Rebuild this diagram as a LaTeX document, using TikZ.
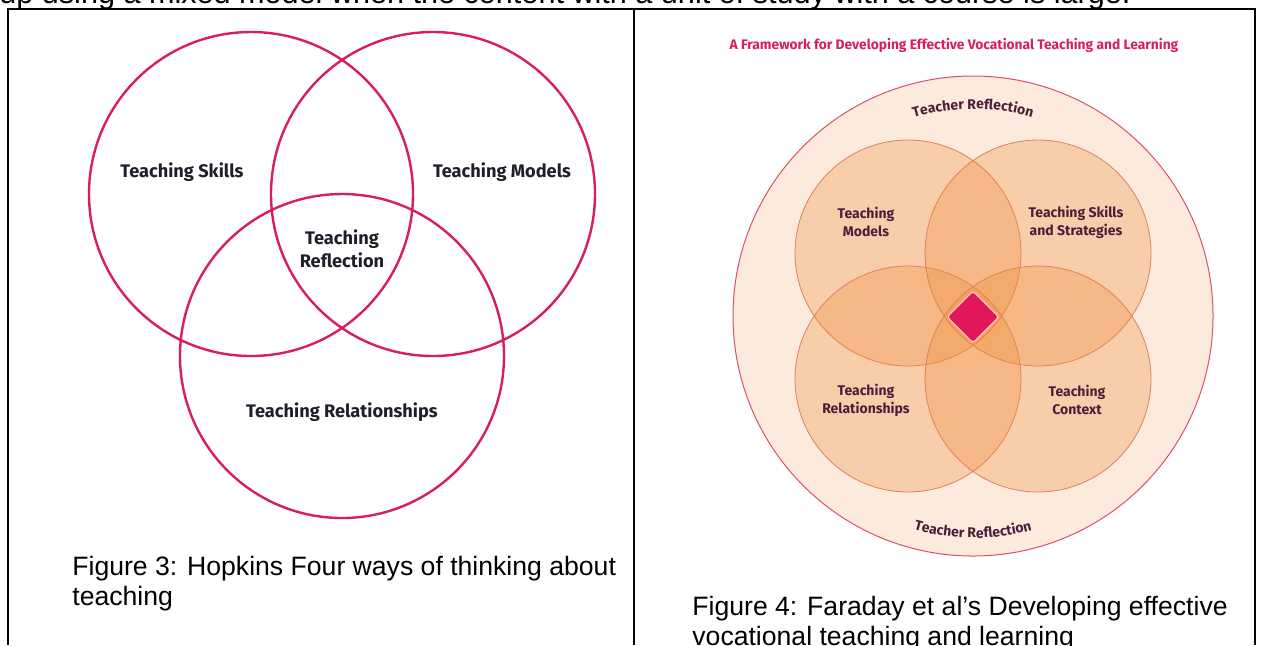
\documentclass[tikz,border=0pt]{standalone}
\usepackage{fontspec}
\setmainfont{Liberation Sans}
\newfontfamily\diagfont{Fira Sans}
\usepackage{tikz}
\usetikzlibrary{shapes.geometric, decorations.text}
\definecolor{vennred}{HTML}{D81E5B}
\definecolor{rimred}{HTML}{D9506E}
\definecolor{peach}{HTML}{FCEBDD}
\definecolor{petal}{HTML}{F08A35}
\definecolor{petalrim}{HTML}{E0805E}
\definecolor{corered}{HTML}{E0185A}
\definecolor{plumtext}{HTML}{4A1E3A}
\definecolor{inktext}{HTML}{1F1E2A}

\begin{document}
\begin{tikzpicture}[x=0.5pt, y=-0.5pt,
  ring/.style={circle, draw=vennred, line width=1.2pt, minimum size=162pt, inner sep=0pt},
  petalring/.style={circle, draw=petalrim, line width=0.4pt, fill=petal, fill opacity=0.3,
              minimum size=113pt, inner sep=0pt},
  lbl/.style={font=\diagfont\bfseries\fontsize{9.1}{11.5}\selectfont, text=inktext, align=center},
  plbl/.style={font=\diagfont\bfseries\fontsize{7}{9}\selectfont, text=plumtext, align=center},
  capt/.style={font=\fontsize{13.3}{15}\selectfont, anchor=base west, align=left, inner sep=0pt},
  frame/.style={line width=1pt, black}]
\useasboundingbox (0,0) rectangle (1262,645);
\node[capt, font=\fontsize{15.3}{17}\selectfont] (lead) at (-1,3) {up using a mixed model when the content with a unit of study with a course is large.};
\draw[frame] (8,645) -- (8,9) -- (1255,9) -- (1255,645);
\draw[frame] (634,9) -- (634,645);
% figure 3
\node[ring] (skills) at (251,194) {};
\node[ring] (models) at (433,194) {};
\node[ring] (relations) at (342,356) {};
\node[lbl] (tskills) at (182,172) {Teaching Skills};
\node[lbl] (tmodels) at (502,172) {Teaching Models};
\node[lbl] (treflect) at (342,249) {Teaching\\Reflection};
\node[lbl] (trelations) at (342,412) {Teaching Relationships};
\node[capt] (cap3) at (72,605) {Figure 3: Hopkins Four ways of thinking about\\teaching};
% figure 4
\node[font=\diagfont\bfseries\fontsize{6.9}{8}\selectfont, text=vennred] (title) at (954,45)
  {A Framework for Developing Effective Vocational Teaching and Learning};
\node[circle, draw=rimred, line width=0.5pt, fill=peach, minimum size=240pt, inner sep=0pt] (outer) at (973,316) {};
\node[petalring] (pmodels) at (908,253) {};
\node[petalring] (pskills) at (1038,253) {};
\node[petalring] (prelations) at (908,379) {};
\node[petalring] (pcontext) at (1038,379) {};
\node[diamond, fill=corered, draw=pink!60!white, line width=0.5pt, rounded corners=1.5pt,
      minimum size=26pt, inner sep=0pt] (core) at (973,317) {};
\node[plbl] (lmodels) at (866,222) {Teaching\\Models};
\node[plbl] (lskills) at (1076,222) {Teaching Skills\\and Strategies};
\node[plbl] (lrelations) at (866,400) {Teaching\\Relationships};
\node[plbl] (lcontext) at (1077,400) {Teaching\\Context};
\path[decorate, decoration={text along path, text align=center,
  text={|\diagfont\bfseries\fontsize{7}{8}\selectfont\color{plumtext}|Teacher Reflection}}]
  (outer.center) ++(245:207) arc[start angle=245, end angle=295, radius=207];
\path[decorate, decoration={text along path, text align=center,
  text={|\diagfont\bfseries\fontsize{7}{8}\selectfont\color{plumtext}|Teacher Reflection}}]
  (outer.center) ++(115:222) arc[start angle=115, end angle=65, radius=222];
\node[capt] (cap4) at (692,645) {Figure 4: Faraday et al’s Developing effective\\vocational teaching and learning};
\end{tikzpicture}
\end{document}
